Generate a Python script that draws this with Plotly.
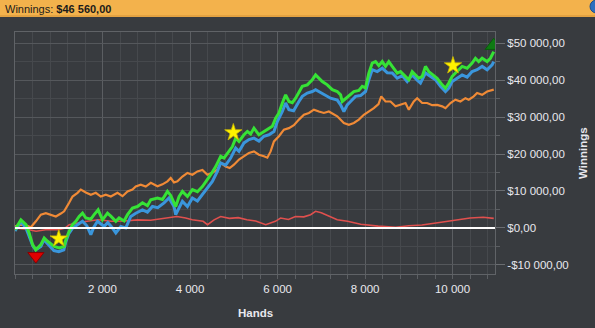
import plotly.graph_objects as go

# ---------------- data ----------------
green_hands = [0,66,135,250,324,402,477,591,667,744,820,895,1009,1123,1162,1237,1315,1390,1466,1543,
               1619,1733,1808,1900,2000,2114,2190,2304,2379,2493,2571,2685,2799,2913,3027,3103,3256,3370,3484,3559,
               3673,3749,3826,3941,4055,4169,4283,4397,4473,4587,4701,4776,4890,4968,5043,5119,5233,5311,5386,5461,
               5575,5689,5804,5881,5957,6032,6110,6185,6260,6338,6413,6489,6566,6680,6795,6870,6945,7023,7137,7251,
               7365,7441,7479,7555,7630,7744,7858,7936,8011,8087,8164,8240,8315,8393,8468,8543,8621,8735,8811,8925,
               9000,9078,9153,9228,9306,9381,9457,9534,9648,9763,9838,9914,9991,10066,10142,10219,10333,10447,10523,10598,
               10676,10790,10865,10941]
green_vals = [-500,1000,2200,900,-1350,-4500,-5900,-4500,-2700,-3600,-4200,-5000,-5400,-5000,-3200,-900,900,1800,3100,4000,
              2700,2400,3600,4900,2200,4000,3200,1800,2700,1900,3600,5400,5800,6800,6000,7600,8100,7700,9900,8800,
              5800,8500,9900,8500,10350,9800,11200,13050,14400,16600,19400,18900,20700,22000,24300,23400,25200,26100,25400,27000,
              25200,26100,27000,27500,29700,31100,33800,36000,34200,33900,35100,36900,38300,38700,40100,41400,40500,39600,38700,37400,
              36900,36000,34200,35000,35600,36900,37200,38300,37900,41900,44600,45000,43900,45000,43700,45000,43700,41900,42300,41000,
              40100,42300,41500,40500,41000,43700,42300,41500,40500,38700,37800,39200,41000,41900,42800,43700,43200,44600,45900,45000,
              45900,45000,45900,47700]

blue_hands = [0,135,249,317,409,473,591,660,751,820,888,1002,1116,1162,1230,1320,1429,1543,1641,1733,
              1801,1886,2036,2121,2212,2304,2418,2532,2646,2760,2913,3027,3141,3262,3406,3520,3582,3634,3673,3749,
              3826,3941,4055,4169,4283,4397,4511,4625,4701,4815,4929,5043,5119,5233,5347,5461,5575,5689,5804,5918,
              5995,6110,6185,6260,6367,6489,6566,6680,6795,6870,6984,7098,7212,7365,7441,7516,7593,7669,7783,7897,
              8011,8087,8164,8278,8393,8507,8621,8735,8849,8963,9078,9192,9267,9381,9495,9609,9723,9838,9914,9991,
              10105,10219,10333,10447,10561,10676,10790,10904,10941]
blue_vals = [-800,1700,0,-2000,-4900,-5900,-5000,-3200,-4300,-5400,-6100,-6400,-5900,-3700,-1500,0,900,1800,600,-1800,
             200,1800,400,1500,200,-1350,400,0,3100,4000,4900,4300,5800,5500,6800,8100,6800,5800,3600,5600,
             7200,5800,8100,7300,9000,10800,12600,15300,17600,17000,18900,21600,20700,23000,23900,24300,23500,24800,25200,26100,
             28800,31500,33800,32000,31700,34200,35600,36500,36900,37400,36700,36000,35100,34600,33300,31500,33300,34200,35600,35800,
             36900,40100,42800,42300,43200,42000,41900,40500,41200,39600,41400,40000,39200,41900,41000,40100,38300,36900,37800,39600,
             40500,41400,40800,42300,42800,43700,42800,44100,45000]

orange_hands = [0,135,249,363,477,591,705,820,934,1048,1123,1237,1315,1429,1504,1619,1733,1847,1961,2075,
                2190,2342,2457,2571,2685,2760,2874,2988,3103,3256,3370,3484,3559,3634,3712,3826,3941,4055,4169,4283,
                4397,4511,4625,4701,4815,4906,5004,5119,5233,5347,5461,5575,5689,5767,5842,5918,6032,6146,6260,6374,
                6489,6603,6717,6831,6945,7059,7173,7288,7365,7516,7630,7744,7858,7972,8087,8201,8308,8370,8468,8582,
                8696,8811,8925,9000,9114,9192,9306,9420,9534,9648,9763,9838,9952,10066,10180,10294,10370,10484,10561,10676,
                10790,10941]
orange_vals = [400,900,700,200,1800,3600,4000,3500,3100,3900,4500,6800,8500,9500,10400,9600,9000,9500,8500,9000,
               8500,9500,8600,9900,10400,11200,11700,11200,12200,11300,11800,12600,13500,12300,12600,13900,14900,14400,15300,15700,
               14400,14900,15800,17600,16600,16200,17100,18500,19400,20300,20700,19800,19400,19000,20700,23400,24800,26600,27000,27800,
               29300,30600,31100,32000,31500,31100,31500,30600,30200,28400,27900,28400,29300,30600,31500,32400,33500,35600,34200,34200,
               32900,33300,33800,32000,34200,35100,33800,33800,33200,33300,32900,32400,33800,34700,34200,35100,34700,35600,36500,36000,
               36900,37400]

red_hands = [0,250,480,700,1000,1150,1240,1400,1650,1900,2200,2500,2800,3100,3450,3700,3900,4050,4300,4400,
             4550,4700,4900,5100,5300,5500,5730,5950,6070,6250,6410,6600,6756,6870,7000,7173,7365,7600,7900,8300,
             8700,9000,9300,9700,10100,10400,10700,10941]
red_vals = [0,-300,-900,-500,-500,0,900,1300,1800,2200,1800,1900,2200,2100,2700,3100,2700,2200,1800,900,
            2200,3100,2600,2800,2200,1900,900,1800,2700,2300,3100,3000,3600,4500,4100,3100,2200,1800,1000,500,
            200,600,800,1500,2300,2700,2900,2600]

star_hands = [1000, 4990, 10010]
star_vals = [-2900, 25800, 43900]
low_hand, low_val = [477], [-7600]
high_hand, high_val = [10941], [49300]

x_tickvals = [2000, 4000, 6000, 8000, 10000]
x_ticktext = ["2 000", "4 000", "6 000", "8 000", "10 000"]
y_tickvals = [-10000, 0, 10000, 20000, 30000, 40000, 50000]
y_ticktext = ["-$10 000,00", "$0,00", "$10 000,00", "$20 000,00", "$30 000,00", "$40 000,00", "$50 000,00"]
header_text = "Winnings: <b>$46 560,00</b>"

# ---------------- figure ----------------
BG = "#383b3f"
FONT = "Liberation Sans"
TXT = "#e8e8ee"

fig = go.Figure()
fig.add_trace(go.Scatter(x=red_hands, y=red_vals, mode="lines",
                         line=dict(color="#e0504e", width=1.6), hoverinfo="skip"))
fig.add_trace(go.Scatter(x=orange_hands, y=orange_vals, mode="lines",
                         line=dict(color="#f08a36", width=2.2), hoverinfo="skip"))
fig.add_trace(go.Scatter(x=blue_hands, y=blue_vals, mode="lines",
                         line=dict(color="#3a96dc", width=3), hoverinfo="skip"))
fig.add_trace(go.Scatter(x=green_hands, y=green_vals, mode="lines",
                         line=dict(color="#36e236", width=3), hoverinfo="skip"))
fig.add_trace(go.Scatter(x=star_hands, y=star_vals, mode="markers",
                         marker=dict(symbol="star", size=13, color="#fff200",
                                     line=dict(color="#c9b800", width=0.8)), hoverinfo="skip"))
fig.add_trace(go.Scatter(x=low_hand, y=low_val, mode="markers",
                         marker=dict(symbol="triangle-down", size=14, color="#e00000",
                                     line=dict(color="#8a0000", width=1)), hoverinfo="skip"))
fig.add_trace(go.Scatter(x=high_hand, y=high_val, mode="markers",
                         marker=dict(symbol="triangle-up", size=15, color="#0e7a12",
                                     line=dict(color="#0a5a0c", width=1)), hoverinfo="skip"))

L, R, T, B = 15, 100, 32, 54
W, H = 595, 328
pw, ph = W - L - R, H - T - B

def px(x):
    return (x - L) / pw

def py(y):
    return (H - B - y) / ph

fig.update_layout(
    width=W, height=H,
    margin=dict(l=L, r=R, t=T, b=B, pad=0),
    paper_bgcolor=BG, plot_bgcolor=BG,
    showlegend=False,
    font=dict(family=FONT, size=11.5, color=TXT),
    xaxis=dict(range=[0, 10970], tickvals=x_tickvals, ticktext=x_ticktext,
               ticks="outside", ticklen=4, tickcolor="#5c5f63",
               showgrid=True, gridcolor="#5b5e62", gridwidth=1,
               minor=dict(dtick=400, tick0=0, showgrid=True, gridcolor="#46494d",
                          ticks="outside", ticklen=4, tickcolor="#5c5f63"),
               showline=True, linecolor="#606367", mirror=True,
               zeroline=False, tickfont=dict(family=FONT, size=11.5, color=TXT)),
    yaxis=dict(range=[-12450, 53000], side="right", tickvals=y_tickvals, ticktext=y_ticktext,
               ticks="outside", ticklen=9, tickcolor="#6a6d71",
               showgrid=True, gridcolor="#55585c", gridwidth=1,
               minor=dict(dtick=5000, tick0=0, showgrid=True, gridcolor="#46494d",
                          ticks="outside", ticklen=4, tickcolor="#5c5f63"),
               showline=True, linecolor="#606367", mirror=True,
               zeroline=False, tickfont=dict(family=FONT, size=11.5, color=TXT)),
)

# zero line on top of the series
fig.add_shape(type="line", xref="paper", yref="y", x0=0, x1=1, y0=0, y1=0,
              line=dict(color="#ffffff", width=2), layer="above")

# header bar
fig.add_shape(type="rect", xref="paper", yref="paper",
              x0=px(-2), x1=px(W + 2), y0=py(17), y1=py(-2),
              fillcolor="#f3b24c", line=dict(width=0), layer="below")
fig.add_shape(type="rect", xref="paper", yref="paper",
              x0=px(-2), x1=px(W + 2), y0=py(17), y1=py(15),
              fillcolor="#e3a242", line=dict(width=0), layer="below")
fig.add_shape(type="circle", xref="paper", yref="paper",
              x0=px(590), x1=px(603), y0=py(13), y1=py(0),
              fillcolor="#2c6fbf", line=dict(color="#1c4f90", width=1), layer="above")

fig.add_annotation(text=header_text, xref="paper", yref="paper",
                   x=px(3), y=py(8.5), xanchor="left", yanchor="middle", showarrow=False,
                   font=dict(family=FONT, size=11, color="#1b1b1b"))
fig.add_annotation(text="<b>Hands</b>", xref="paper", yref="paper",
                   x=px(255), y=py(313), xanchor="center", yanchor="middle", showarrow=False,
                   font=dict(family=FONT, size=11.5, color=TXT))
fig.add_annotation(text="<b>Winnings</b>", xref="paper", yref="paper",
                   x=px(583), y=py(153), xanchor="center", yanchor="middle", showarrow=False,
                   textangle=-90, font=dict(family=FONT, size=11.5, color=TXT))

fig.write_html("out.html")
